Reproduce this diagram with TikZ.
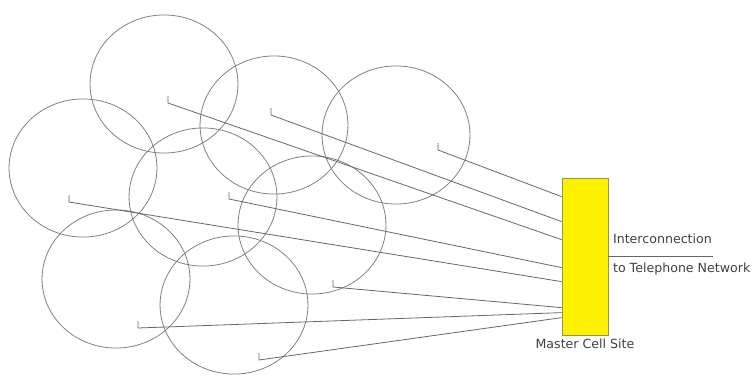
\documentclass[tikz,border=0pt]{standalone}
\usepackage{fontspec}
\setmainfont{DejaVu Sans}
\usetikzlibrary{shapes.geometric,positioning,calc}

\begin{document}
\begin{tikzpicture}[
    x=0.0265cm, y=-0.0265cm,
    cell/.style={ellipse, draw=black!50, line width=0.6pt, minimum width=3.92cm, minimum height=3.66cm, inner sep=0pt},
    link/.style={draw=black!60, line width=0.6pt},
    site/.style={rectangle, draw=black!45!yellow, fill=yellow, line width=0.6pt, minimum width=1.22cm, minimum height=4.16cm},
    tag/.style={font=\fontsize{9.5}{11}\selectfont, text=black!75}
]
    \useasboundingbox (0,0) rectangle (754,374);

    % cells
    \node[cell] (c1) at (164,84) {};
    \node[cell] (c2) at (274,125) {};
    \node[cell] (c3) at (396,135) {};
    \node[cell] (c4) at (83,168) {};
    \node[cell] (c5) at (203,197) {};
    \node[cell] (c6) at (312,225) {};
    \node[cell] (c7) at (116,279) {};
    \node[cell] (c8) at (234,305) {};

    \node[site] (msc) at (585,256.5) {};
    \node[tag, below=-1pt of msc] (msclabel) {Master Cell Site};

    % antennas and links to the master site
    \foreach \n/\x/\y/\d in {a/168/103/62, b/271/115/44, c/438/150/19, d/69/202/104,
                             e/229/199/90, f/333/287/130, g/138/328/135, h/259/360/140} {
        \coordinate (ant\n) at (\x,\y);
        \draw[link] ($(ant\n)+(0,-7)$) -- (ant\n) -- ($(msc.north west)+(0,\d)$);
    }

    % telephone network
    \coordinate[right=2.76cm of msc.east] (net);
    \draw[link] (msc.east) -- (net);
    \node[tag, above right=6pt and 0pt of msc.east] (top) {Interconnection};
    \node[tag, below right=1pt and 0pt of msc.east] (bot) {to Telephone Network};
\end{tikzpicture}
\end{document}
